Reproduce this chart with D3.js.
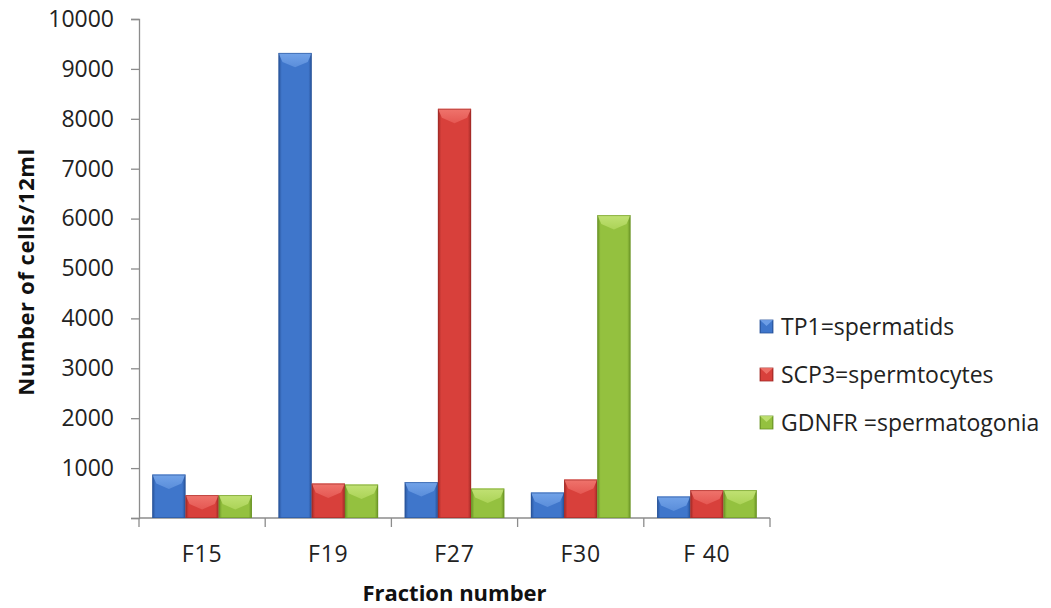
<!DOCTYPE html>
<html>
<head>
<meta charset="utf-8">
<script src="https://cdn.jsdelivr.net/npm/d3@7"></script>
<style>
  html, body { margin: 0; padding: 0; background: #fff; }
  svg { display: block; font-family: "Open Sans", sans-serif; }
</style>
</head>
<body>
<svg id="chart" width="1051" height="608"></svg>
<script>
// Cell counts per fraction for each marker
const fractions = ["F15", "F19", "F27", "F30", "F 40"];
const seriesNames = ["TP1=spermatids", "SCP3=spermtocytes", "GDNFR =spermatogonia"];
const tp1Values   = [870, 9320, 720, 510, 430];
const scp3Values  = [460, 690, 8200, 770, 560];
const gdnfrValues = [460, 670, 590, 6070, 560];
const yTicks = [0, 1000, 2000, 3000, 4000, 5000, 6000, 7000, 8000, 9000, 10000];

const seriesValues = [tp1Values, scp3Values, gdnfrValues];
const palettes = [
  { main: "#3f76cb", edge: "#28539a", light: "#78a8ec", top: "#5d90dc" },
  { main: "#d8403b", edge: "#a22a26", light: "#f27a72", top: "#e65a55" },
  { main: "#94c13f", edge: "#6a9426", light: "#c6e57a", top: "#aed55a" }
];

const svg = d3.select("#chart");
const plotLeft = 139, plotRight = 770, plotTop = 19, plotBottom = 518;

const x = d3.scaleBand().domain(fractions).range([plotLeft, plotRight]).paddingInner(0).paddingOuter(0);
const xs = d3.scaleBand().domain(d3.range(seriesNames.length)).range([0, x.bandwidth()]).paddingInner(0).paddingOuter(0.4);
const y = d3.scaleLinear().domain([0, 10000]).range([plotBottom, plotTop]);

// Horizontal gradients give each bar a rounded, bevelled look
const defs = svg.append("defs");
palettes.forEach((p, i) => {
  const g = defs.append("linearGradient").attr("id", "grad" + i)
    .attr("x1", "0%").attr("x2", "100%").attr("y1", "0%").attr("y2", "0%");
  g.append("stop").attr("offset", "0%").attr("stop-color", p.edge);
  g.append("stop").attr("offset", "10%").attr("stop-color", p.main);
  g.append("stop").attr("offset", "55%").attr("stop-color", p.main);
  g.append("stop").attr("offset", "90%").attr("stop-color", p.main);
  g.append("stop").attr("offset", "100%").attr("stop-color", p.edge);
  const t = defs.append("linearGradient").attr("id", "cap" + i)
    .attr("x1", "0%").attr("x2", "0%").attr("y1", "0%").attr("y2", "100%");
  t.append("stop").attr("offset", "0%").attr("stop-color", p.light);
  t.append("stop").attr("offset", "100%").attr("stop-color", p.top);
});

// Y axis
const yAxis = d3.axisLeft(y).tickValues(yTicks).tickSize(8).tickPadding(17)
  .tickFormat(d => d === 0 ? "" : d3.format("d")(d));
const yg = svg.append("g").attr("transform", `translate(${plotLeft},0)`).call(yAxis);
yg.select(".domain").attr("stroke", "#8c8c8c").attr("stroke-width", 1.3);
yg.selectAll(".tick line").attr("stroke", "#8c8c8c").attr("stroke-width", 1.3);
yg.selectAll(".tick text").attr("font-size", 23).attr("fill", "#222")
  .attr("font-family", "Open Sans, sans-serif");

// X axis baseline with ticks between categories
svg.append("line").attr("x1", plotLeft).attr("x2", plotRight).attr("y1", plotBottom).attr("y2", plotBottom)
  .attr("stroke", "#8c8c8c").attr("stroke-width", 1.3);
const boundaries = fractions.map(f => x(f)).concat([x(fractions[fractions.length - 1]) + x.bandwidth()]);
svg.selectAll(".xtick").data(boundaries).enter().append("line")
  .attr("x1", d => d).attr("x2", d => d).attr("y1", plotBottom).attr("y2", plotBottom + 9)
  .attr("stroke", "#8c8c8c").attr("stroke-width", 1.3);
svg.selectAll(".xlabel").data(fractions).enter().append("text")
  .attr("x", d => x(d) + x.bandwidth() / 2).attr("y", 562)
  .attr("text-anchor", "middle").attr("font-size", 23).attr("letter-spacing", 0.8)
  .attr("fill", "#222").text(d => d);

// Bars
const bars = [];
fractions.forEach((f, fi) => {
  seriesValues.forEach((vals, si) => bars.push({ f, si, v: vals[fi] }));
});

const barG = svg.append("g");
bars.forEach(b => {
  const x0 = x(b.f) + xs(b.si), w = xs.bandwidth();
  const y0 = y(b.v), h = y(0) - y(b.v);
  const g = barG.append("g");
  g.append("rect").attr("x", x0).attr("y", y0).attr("width", w).attr("height", h)
    .attr("fill", `url(#grad${b.si})`);
  const cap = Math.min(9, h / 2);
  g.append("path")
    .attr("d", `M${x0},${y0} L${x0 + w},${y0} L${x0 + w - 4},${y0 + cap} L${x0 + w / 2},${y0 + cap * 1.6} L${x0 + 4},${y0 + cap} Z`)
    .attr("fill", `url(#cap${b.si})`).attr("opacity", 0.9);
  g.append("rect").attr("x", x0 + 0.5).attr("y", y0 + 0.5).attr("width", w - 1).attr("height", h - 1)
    .attr("fill", "none").attr("stroke", palettes[b.si].edge).attr("stroke-width", 1).attr("opacity", 0.6);
});

// Legend
const legend = svg.append("g");
seriesNames.forEach((name, i) => {
  const cy = 327 + i * 48;
  legend.append("rect").attr("x", 760).attr("y", cy - 7).attr("width", 13).attr("height", 13)
    .attr("fill", `url(#grad${i})`).attr("stroke", palettes[i].edge).attr("stroke-width", 0.8);
  legend.append("path")
    .attr("d", `M760,${cy - 7} L773,${cy - 7} L766.5,${cy - 1} Z`)
    .attr("fill", palettes[i].light).attr("opacity", 0.8);
  legend.append("text").attr("x", 781).attr("y", cy + 8)
    .attr("font-size", 23).attr("fill", "#222").text(name);
});

// Axis titles
svg.append("text").attr("transform", "translate(34,272) rotate(-90)")
  .attr("text-anchor", "middle").attr("font-size", 22).attr("font-weight", "bold")
  .attr("letter-spacing", 0.6).attr("fill", "#111").text("Number of cells/12ml");
svg.append("text").attr("x", (plotLeft + plotRight) / 2).attr("y", 601)
  .attr("text-anchor", "middle").attr("font-size", 22).attr("font-weight", "bold")
  .attr("fill", "#111").text("Fraction number");
</script>
</body>
</html>
